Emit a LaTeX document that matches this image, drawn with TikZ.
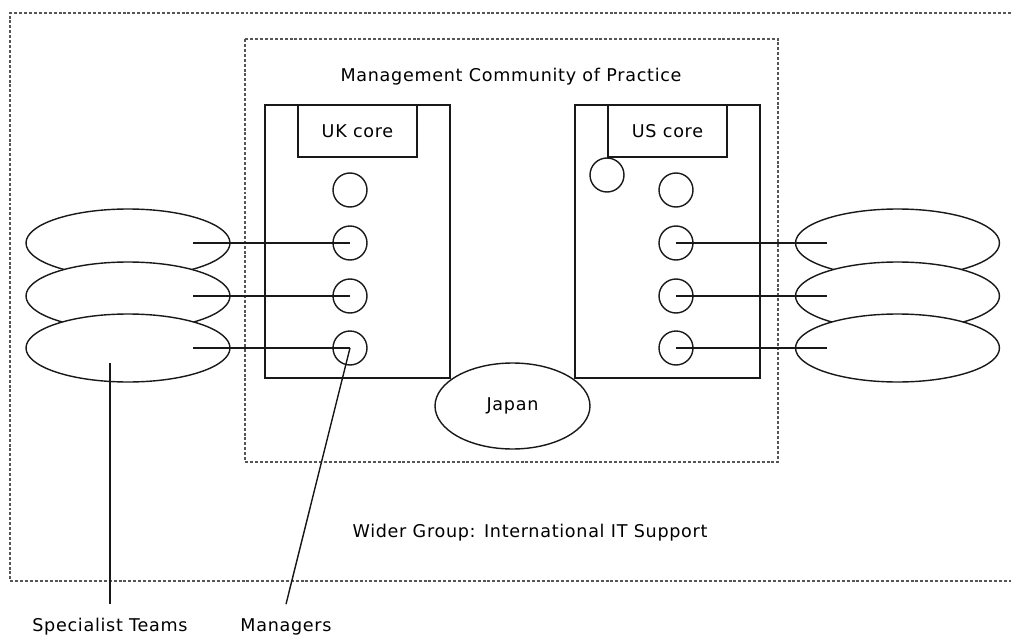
\documentclass[tikz,border=0pt]{standalone}
\usepackage{fontspec}
\setmainfont{DejaVu Sans}[LetterSpace=4]
\usepackage{tikz}
\usetikzlibrary{
  arrows.meta,
  positioning,
  calc,
  shapes.geometric
}
\definecolor{InkBlack}{RGB}{25,25,25}
\definecolor{FrameGray}{RGB}{85,85,85}
\tikzset{
  teamnode/.style={draw=InkBlack,fill=white,ellipse,line width=0.8pt,minimum width=4.08cm,minimum height=1.36cm,inner sep=0pt},
  mgrnode/.style={draw=InkBlack,circle,line width=0.8pt,minimum size=0.68cm,inner sep=0pt},
  sitebox/.style={draw=InkBlack,line width=0.8pt,minimum width=3.7cm,minimum height=5.46cm,inner sep=0pt},
  corebox/.style={draw=InkBlack,line width=0.8pt,minimum width=2.38cm,minimum height=1.04cm,inner sep=0pt},
  groupframe/.style={draw=FrameGray,line width=0.6pt,dash pattern=on 1.7pt off 1.1pt},
  link/.style={draw=InkBlack,line width=0.8pt},
  caption/.style={inner sep=2pt,outer sep=6pt}
}

\begin{document}
\begin{tikzpicture}[x=0.02cm,y=-0.02cm]
\useasboundingbox (0,0) rectangle (1011,635);
% wider group (open on the right) and community of practice
\draw[groupframe] (1011,13) -- (10,13) -- (10,581) -- (1011,581);
\draw[groupframe] (245,39) rectangle (778,462);
\node (mcop) at (511,77) {Management Community of Practice};
\node (wider) at (530,533) {Wider Group: International IT Support};
% UK and US sites
\node[sitebox] (ukbox) at (357.5,241.5) {};
\node[corebox, anchor=north] (ukcore) at (ukbox.north) {UK core};
\node[sitebox] (usbox) at (667.5,241.5) {};
\node[corebox, anchor=north] (uscore) at (usbox.north) {US core};
\node[teamnode, minimum width=3.1cm, minimum height=1.72cm] (japan) at (512.5,406) {Japan};
% managers
\node[mgrnode] (ukm0) at (350,190) {};
\node[mgrnode] (ukm1) at (350,243) {};
\node[mgrnode] (ukm2) at (350,296) {};
\node[mgrnode] (ukm3) at (350,348) {};
\node[mgrnode] (usm0) at (676,190) {};
\node[mgrnode] (usm1) at (676,243) {};
\node[mgrnode] (usm2) at (676,296) {};
\node[mgrnode] (usm3) at (676,348) {};
\node[mgrnode] (usextra) at (607,175) {};
% specialist teams
\node[teamnode] (lteam1) at (128,243) {};
\node[teamnode] (lteam2) at (128,296) {};
\node[teamnode] (lteam3) at (128,348) {};
\node[teamnode] (rteam1) at (897.5,243) {};
\node[teamnode] (rteam2) at (897.5,296) {};
\node[teamnode] (rteam3) at (897.5,348) {};
\draw[link] ($(lteam1.center)+(65,0)$) -- (ukm1.center);
\draw[link] ($(lteam2.center)+(65,0)$) -- (ukm2.center);
\draw[link] ($(lteam3.center)+(65,0)$) -- (ukm3.center);
\draw[link] (usm1.center) -- ($(rteam1.center)+(-70.5,0)$);
\draw[link] (usm2.center) -- ($(rteam2.center)+(-70.5,0)$);
\draw[link] (usm3.center) -- ($(rteam3.center)+(-70.5,0)$);
% callouts
\node[caption, anchor=base] (spec) at (110,631) {Specialist Teams};
\node[caption, anchor=base] (mgrs) at (286,631) {Managers};
\coordinate (specpin) at ($(lteam3.center)+(-18,15)$);
\draw[link] (spec.north) -- (specpin);
\draw[link] (mgrs.north) -- (ukm3.center);
\end{tikzpicture}
\end{document}
